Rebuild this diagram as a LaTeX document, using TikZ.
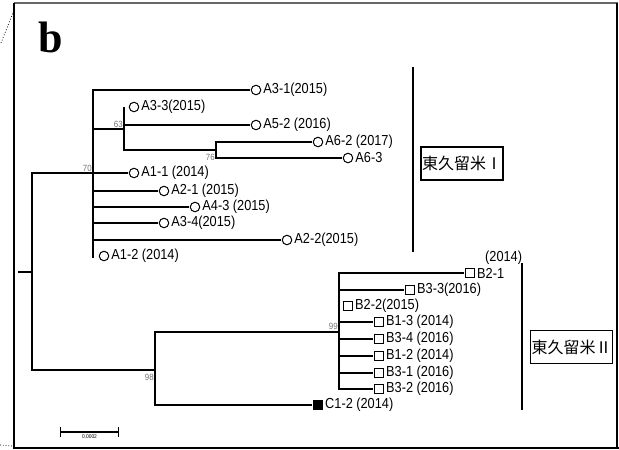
\documentclass[tikz,border=0pt]{standalone}
\usepackage{fontspec}
\setmainfont{Liberation Sans}[FakeStretch=0.88]
\newfontfamily\cjkfont{Noto Sans CJK JP}
\newfontfamily\titlefont{Liberation Serif}
\usetikzlibrary{positioning}

\newcommand{\fullw}[1]{\makebox[1em]{#1}}

\tikzset{
  branch/.style={line width=1.8pt},
  circmark/.style={draw, circle, line width=1pt, minimum size=9.5pt, inner sep=0pt, outer sep=1.5pt},
  sqmark/.style={draw, rectangle, line width=1pt, minimum size=9pt, inner sep=0pt, outer sep=1.5pt},
  fillmark/.style={sqmark, fill=black},
  lbl/.style={font=\fontsize{14.5}{15}\selectfont, inner sep=0pt, anchor=west},
  boot/.style={font=\fontsize{9}{9}\selectfont, text=black!55, inner sep=1pt},
  groupbox/.style={draw, line width=1.4pt, font=\cjkfont\fontsize{16}{16}\selectfont,
    minimum width=82pt, minimum height=33pt, inner xsep=0.5pt},
  groupbar/.style={line width=1.8pt}
}

\begin{document}
\begin{tikzpicture}[x=1pt,y=-1pt]
  \useasboundingbox (0,0) rectangle (619,450);

  % 枠
  \draw[black!60, line width=1.2pt] (14,3) -- (618,3);
  \draw[line width=1.2pt] (14,3) -- (14,448) -- (619,448);
  \draw[line width=1.2pt] (617,3) -- (617,448);
  \draw[dotted, line width=0.8pt] (1,43) -- (14,10);
  \draw[dotted, line width=0.8pt] (0,445) -- (12,446);

  \node[font=\titlefont\bfseries\fontsize{44}{44}\selectfont, inner sep=0pt] (title) at (51,37) {b};

  % 分岐点
  \coordinate (root) at (18,272);
  \coordinate (n0) at (32,272);
  \coordinate (nA) at (93,173);
  \coordinate (endA) at (93,258);
  \coordinate (n63) at (124,129);
  \coordinate (n76) at (216,150);
  \coordinate (nB) at (155,370);
  \coordinate (nB1) at (339,332);

  % 東久留米I の葉
  \foreach \n/\x/\y/\t in {A31/256/90/{A3-1(2015)}, A33/134/107/{A3-3(2015)},
      A52/256/125/{A5-2 (2016)}, A62/318/142/{A6-2 (2017)}, A63/348/158/{A6-3},
      A11/134/173/{A1-1 (2014)}, A21/164/191/{A2-1 (2015)}, A43/195/207/{A4-3 (2015)},
      A34/164/223/{A3-4(2015)}, A22/287/240/{A2-2(2015)}, A12/104/256/{A1-2 (2014)}}
  {
    \node[circmark] (\n) at (\x,\y) {};
    \node[lbl, right=1pt of \n] (\n t) {\t};
  }

  % 東久留米II の葉
  \foreach \n/\x/\y/\t in {B21/470/273/{B2-1}, B33/410/290/{B3-3(2016)},
      B22/348/306/{B2-2(2015)}, B13/379/322/{B1-3 (2014)}, B34/379/339/{B3-4 (2016)},
      B12/379/356/{B1-2 (2014)}, B31/379/373/{B3-1 (2016)}, B32/379/389/{B3-2 (2016)}}
  {
    \node[sqmark] (\n) at (\x,\y) {};
    \node[lbl, right=1pt of \n] (\n t) {\t};
  }
  \node[lbl] (B21y) at (485,258) {(2014)};
  \node[fillmark] (C12) at (318,405) {};
  \node[lbl, right=1pt of C12] (C12t) {C1-2 (2014)};

  % 枝
  \draw[branch] (root) -- (n0);
  \draw[branch] (nA) -| (n0) |- (nB);
  \draw[branch] (nA) -- (endA);
  \foreach \n in {A31,A11,A21,A43,A34,A22}
    \draw[branch] (nA) |- (\n);
  \draw[branch] (nA) |- (n63);
  \draw[branch] (n63) -- (n63 |- A33);
  \draw[branch] (n63) |- (A52);
  \draw[branch] (n63) |- (n76);
  \draw[branch] (n76) |- (A62);
  \draw[branch] (n76) |- (A63);
  \draw[branch] (nB1) -| (nB) |- (C12);
  \foreach \n in {B21,B33,B13,B34,B12,B31,B32}
    \draw[branch] (nB1) |- (\n);

  % ブートストラップ値
  \node[boot, above left=0pt of nA] (b70) {70};
  \node[boot, above left=0pt of n63] (b63) {63};
  \node[boot, below left=3pt and 0pt of n76] (b76) {76};
  \node[boot, below left=3pt and 0pt of nB] (b98) {98};
  \node[boot, above left=1pt and 0pt of nB1] (b99) {99};

  % グループ
  \coordinate (gI1) at (413,67);
  \coordinate (gI2) at (413,252);
  \draw[groupbar] (gI1) -- (gI2);
  \node[groupbox] (gI) at (462,163.5) {東久留米\fullw{Ⅰ}};
  \coordinate (gII1) at (522,263);
  \coordinate (gII2) at (522,410);
  \draw[groupbar] (gII1) -- (gII2);
  \node[groupbox] (gII) at (571.5,347) {東久留米\fullw{Ⅱ}};

  % スケール
  \coordinate (sb1) at (60,432);
  \coordinate (sb2) at (119,432);
  \draw[|-|, line width=1.4pt] (sb1) -- (sb2)
    node[midway, below=2pt, font=\fontsize{5.5}{5.5}\selectfont, inner sep=0pt] (sbt) {0.0002};
\end{tikzpicture}
\end{document}
